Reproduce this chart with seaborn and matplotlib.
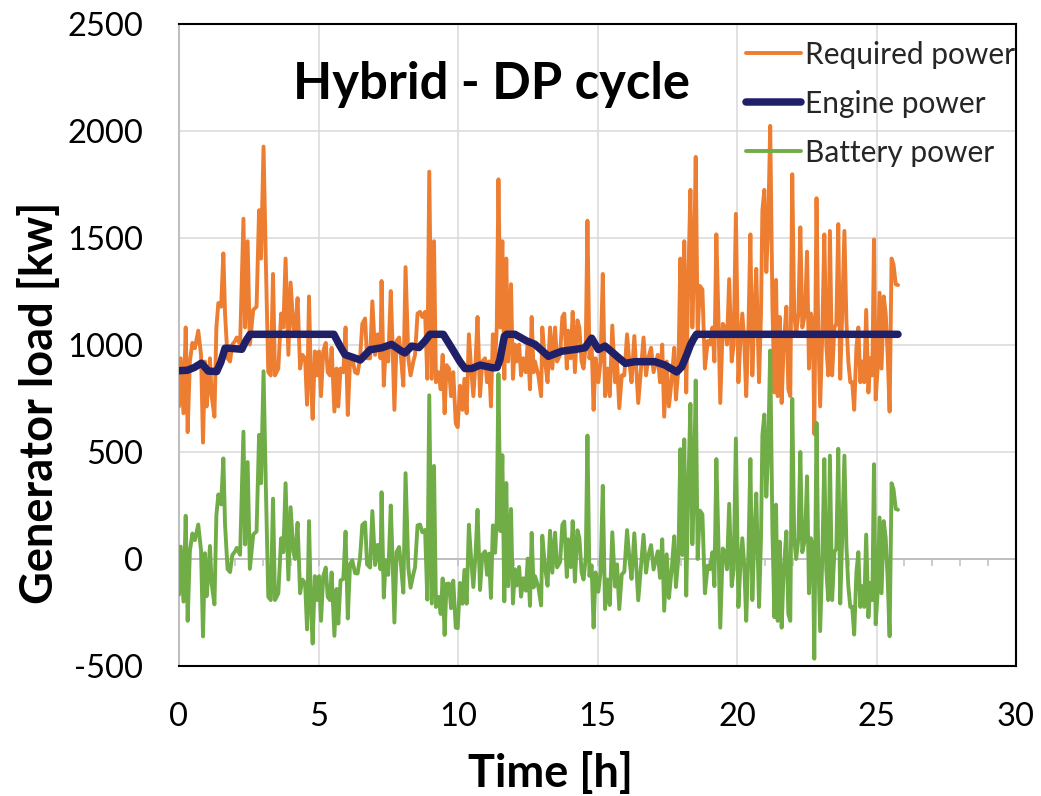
import numpy as np
import pandas as pd
import matplotlib
matplotlib.use("Agg")
import matplotlib.pyplot as plt
import seaborn as sns

# ---------------- data ----------------
time = [
    0.00, 0.06, 0.16, 0.24, 0.31, 0.39, 0.48, 0.57, 0.69, 0.79,
    0.86, 0.93, 0.99, 1.05, 1.11, 1.17, 1.27, 1.34, 1.41, 1.51,
    1.59, 1.65, 1.74, 1.83, 1.91, 2.01, 2.07, 2.19, 2.31, 2.37,
    2.46, 2.54, 2.66, 2.78, 2.87, 2.94, 3.03, 3.11, 3.20, 3.29,
    3.37, 3.44, 3.56, 3.66, 3.74, 3.82, 3.92, 4.00, 4.10,
    4.16, 4.25, 4.34, 4.42, 4.52, 4.59, 4.66, 4.73, 4.79, 4.87,
    4.95, 5.02, 5.09, 5.17, 5.26, 5.33, 5.41, 5.47, 5.57, 5.65,
    5.71, 5.79, 5.89, 5.97, 6.05, 6.13, 6.21, 6.31, 6.40, 6.49,
    6.57, 6.67, 6.74, 6.85, 6.93, 7.03, 7.12, 7.22, 7.26, 7.34,
    7.41, 7.50, 7.59, 7.65, 7.72, 7.80, 7.89, 7.96, 8.04, 8.12,
    8.22, 8.30, 8.40,
    8.46, 8.55, 8.64, 8.72, 8.82, 8.90, 8.97, 9.06, 9.14, 9.21,
    9.30, 9.38, 9.45, 9.52, 9.59, 9.68, 9.75, 9.83, 9.92, 9.99,
    10.07, 10.16, 10.23, 10.31, 10.39, 10.47, 10.55, 10.63, 10.70, 10.79,
    10.87, 10.97, 11.04, 11.11, 11.18, 11.25, 11.33, 11.39, 11.45, 11.52,
    11.59, 11.66, 11.73, 11.80, 11.90, 11.97, 12.04, 12.10, 12.19, 12.26,
    12.34, 12.43, 12.50, 12.58, 12.64, 12.71,
    12.76, 12.88, 12.98, 13.02, 13.12, 13.21, 13.30, 13.38, 13.48, 13.55,
    13.66, 13.74, 13.81, 13.90, 13.95, 14.04, 14.11, 14.19, 14.28, 14.35,
    14.43, 14.50, 14.58, 14.64, 14.71, 14.79, 14.86, 14.93, 15.03, 15.11,
    15.19, 15.27, 15.35, 15.44, 15.53, 15.63, 15.70, 15.78, 15.87, 15.96,
    16.06, 16.14, 16.22, 16.32, 16.40, 16.46, 16.56, 16.65, 16.74, 16.82,
    16.92, 17.01,
    17.16, 17.24, 17.32, 17.39, 17.48, 17.56, 17.66, 17.75, 17.81, 17.90,
    17.97, 18.04, 18.11, 18.18, 18.25, 18.33, 18.40, 18.46, 18.52, 18.59,
    18.67, 18.76, 18.85, 18.95, 19.03, 19.12, 19.19, 19.26, 19.33, 19.40,
    19.49, 19.57, 19.64, 19.72, 19.81, 19.88, 19.96, 20.05, 20.12, 20.19,
    20.26, 20.33, 20.41, 20.48, 20.55, 20.62, 20.69, 20.79, 20.86, 20.91,
    20.98, 21.05, 21.12, 21.19, 21.27, 21.34, 21.40,
    21.46, 21.53, 21.60, 21.67, 21.77, 21.84, 21.91, 21.98, 22.05, 22.12,
    22.20, 22.27, 22.34, 22.44, 22.51, 22.58, 22.65, 22.72, 22.77, 22.85,
    22.91, 22.98, 23.06, 23.13, 23.20, 23.27, 23.33, 23.41, 23.49, 23.56,
    23.63, 23.70, 23.77, 23.85, 23.92, 23.99, 24.06, 24.13, 24.20, 24.28,
    24.35, 24.42, 24.49, 24.56, 24.63, 24.71, 24.78, 24.85, 24.91, 24.97,
    25.04, 25.11, 25.18, 25.26, 25.33, 25.40, 25.47, 25.54, 25.61, 25.69,
    25.77,
]

required_power = [
    713, 938, 681, 1082, 593, 923, 1010, 985, 1067, 954,
    544, 923, 713, 810, 938, 761, 665, 1082, 1196, 1179,
    1428, 1147, 938, 923, 1002, 1019, 1035, 1002, 1590, 1082,
    1485, 1002, 1164, 1179, 1630, 1404, 1927, 1404, 873, 858,
    1332, 858, 890, 1147, 1082, 1404, 954, 1292, 1082,
    1050, 1219, 890, 954, 938, 721, 1227, 826, 655, 970,
    858, 970, 761, 970, 1010, 873, 858, 987, 689, 890,
    713, 890, 873, 1082, 673, 923, 938, 873, 866, 938,
    1099, 1124, 938, 938, 1204, 954, 1050, 938, 1299, 810,
    987, 923, 1252, 1019, 697, 1019, 1035, 938, 810, 1364,
    938, 858, 923,
    954, 1147, 1155, 1131, 1155, 842, 1810, 842, 1485, 826,
    873, 793, 954, 681, 906, 890, 761, 873, 633, 616,
    810, 697, 842, 681, 1050, 890, 761, 923, 1131, 761,
    923, 938, 826, 923, 713, 1050, 923, 1082, 1774, 1082,
    1485, 842, 1404, 923, 1284, 842, 1002, 923, 1002, 858,
    938, 873, 1019, 793, 1131, 873,
    923, 858, 761, 1082, 923, 826, 1082, 890, 1082, 923,
    954, 1131, 1147, 890, 1067, 938, 1155, 873, 1115, 1082,
    923, 890, 1002, 1581, 938, 1002, 697, 938, 826, 923,
    1332, 761, 890, 761, 1091, 826, 923, 705, 858, 858,
    1050, 923, 826, 1042, 858, 729, 890, 1035, 858, 938,
    987, 873,
    954, 826, 1002, 665, 923, 713, 842, 987, 745, 890,
    1404, 923, 1485, 778, 1276, 1725, 1082, 1373, 1879, 1050,
    1276, 1259, 890, 1019, 1002, 1082, 923, 1517, 1147, 729,
    1099, 1082, 1002, 1308, 923, 1002, 1613, 826, 1019, 1147,
    1019, 761, 1082, 1517, 858, 1147, 1356, 826, 1147, 1630,
    1725, 1341, 1565, 2024, 1179, 778, 1304,
    761, 1131, 729, 987, 1179, 793, 761, 1798, 1147, 1050,
    1147, 1550, 1082, 1147, 1436, 890, 1147, 1099, 584, 1686,
    1082, 713, 1067, 1517, 1002, 858, 1533, 858, 1082, 1099,
    1565, 842, 1147, 1533, 1115, 923, 826, 826, 697, 987,
    1082, 826, 923, 826, 1164, 778, 938, 858, 1493, 745,
    890, 1244, 890, 1227, 1147, 954, 689, 1404, 1376, 1284,
    1280,
]

battery_power = [
    -167, 58, -199, 202, -289, 37, 119, 88, 161, 40,
    -362, 27, -174, -68, 61, -116, -212, 205, 302, 255,
    470, 162, -47, -61, 18, 36, 52, 20, 595, 68,
    453, -46, 114, 129, 580, 354, 877, 354, -177, -192,
    282, -192, -160, 97, 32, 354, -96, 242, 32,
    0, 169, -160, -96, -112, -329, 177, -224, -395, -80,
    -192, -80, -289, -80, -40, -177, -192, -63, -359, -140,
    -302, -100, -93, 128, -278, -25, -6, -66, -68, 8,
    159, 171, -25, -40, 224, -28, 66, -48, 312, -180,
    -6, -74, 250, 18, -297, 33, 56, -34, -157, 401,
    -41, -134, -71,
    -39, 157, 161, 125, 136, -190, 765, -208, 435, -224,
    -177, -257, -91, -355, -116, -115, -230, -101, -321, -323,
    -112, -209, -51, -209, 160, 0, -131, 26, 230, -145,
    19, 36, -74, 25, -182, 157, 29, 187, 864, 130,
    485, -198, 355, -127, 234, -208, -48, -124, -37, -176,
    -90, -148, 2, -219, 122, -133,
    -80, -131, -217, 109, -38, -125, 132, -64, 123, -39,
    -14, 160, 175, -84, 92, -38, 177, -106, 134, 99,
    -62, -96, 9, 577, -79, -30, -320, -63, -153, -61,
    342, -234, -96, -215, 125, -129, -25, -234, -72, -60,
    135, 6, -93, 120, -64, -193, -32, 113, -64, 16,
    65, -49,
    36, -88, 92, -242, 22, -182, -46, 106, -131, 8,
    513, 19, 559, -171, 306, 725, 69, 343, 834, 0,
    226, 209, -160, -31, -48, 32, -127, 467, 97, -321,
    49, 32, -48, 258, -127, -48, 563, -224, -31, 97,
    -31, -289, 32, 467, -192, 97, 306, -224, 97, 580,
    675, 291, 515, 974, 129, -272, 254,
    -289, 81, -321, -63, 129, -257, -289, 748, 97, 0,
    97, 500, 32, 97, 386, -160, 97, 49, -466, 636,
    32, -337, 17, 467, -48, -192, 483, -192, 32, 49,
    515, -208, 97, 483, 65, -127, -224, -224, -353, -63,
    32, -224, -127, -224, 114, -272, -112, -192, 443, -305,
    -160, 194, -160, 177, 97, -96, -361, 354, 326, 234,
    230,
]

engine_time = [
    0.0, 0.3, 0.55, 0.8, 1.05, 1.35, 1.5, 1.65, 1.8, 2.25,
    2.4, 2.55, 5.55, 5.75, 5.95, 6.5, 6.85, 7.27, 7.62, 7.98,
    8.1, 8.34, 8.6, 8.82, 9.0, 9.47, 9.77, 10.07, 10.25, 10.49,
    10.79, 11.27, 11.4, 11.5, 11.66, 11.74, 12.04, 12.46, 12.76, 13.24,
    13.72, 14.19, 14.55, 14.79, 15.03, 15.27, 15.63, 16.0, 16.34, 17.06,
    17.42, 17.84, 18.02, 18.2, 18.33, 18.45, 18.55, 25.77,
]
engine_power = [
    880, 882, 895, 915, 878, 876, 920, 985, 985, 980,
    1020, 1050, 1050, 1000, 955, 930, 978, 987, 1003, 971,
    963, 995, 988, 1019, 1050, 1050, 987, 922, 890, 890,
    906, 893, 895, 930, 1040, 1050, 1050, 1019, 1003, 947,
    971, 979, 987, 1032, 979, 995, 955, 914, 922, 922,
    906, 874, 898, 955, 1000, 1030, 1050, 1050,
]

x_ticks = [0, 5, 10, 15, 20, 25, 30]
y_ticks = [-500, 0, 500, 1000, 1500, 2000, 2500]

# ---------------- style ----------------
sns.set_theme(style="white")
plt.rcParams["font.family"] = ["Lato", "DejaVu Sans"]
plt.rcParams["axes.unicode_minus"] = False

ORANGE = "#ED7D31"
NAVY = "#202068"
GREEN = "#70AD47"
GRID = "#D9D9D9"
AXISGREY = "#BFBFBF"

fig = plt.figure(figsize=(10.41, 7.96), dpi=100)
ax = fig.add_axes([179 / 1041, 130 / 796, 837 / 1041, 642 / 796])

df = pd.DataFrame({"t": time, "Required power": required_power,
                   "Battery power": battery_power})
eng = pd.DataFrame({"t": engine_time, "Engine power": engine_power})

sns.lineplot(data=df, x="t", y="Required power", ax=ax, color=ORANGE,
             lw=2.8, label="Required power", estimator=None, sort=False,
             zorder=3)
sns.lineplot(data=eng, x="t", y="Engine power", ax=ax, color=NAVY,
             lw=5.4, label="Engine power", estimator=None, sort=False,
             zorder=5, solid_capstyle="round", solid_joinstyle="round")
sns.lineplot(data=df, x="t", y="Battery power", ax=ax, color=GREEN,
             lw=2.8, label="Battery power", estimator=None, sort=False,
             zorder=4)

ax.set_xlim(0, 30)
ax.set_ylim(-500, 2500)
ax.set_xticks(x_ticks)
ax.set_yticks(y_ticks)
ax.grid(True, color=GRID, lw=1.1)
ax.set_axisbelow(True)

# horizontal axis line crossing at zero with hourly tick marks
ax.axhline(0, color=AXISGREY, lw=1.4, zorder=2)
ax.vlines(np.arange(0, 31), -32, 0, color=AXISGREY, lw=1.1, zorder=2)

for side in ["top", "right", "bottom"]:
    ax.spines[side].set_color("black")
    ax.spines[side].set_linewidth(1.5)
ax.spines["left"].set_color(AXISGREY)
ax.spines["left"].set_linewidth(1.5)

ax.tick_params(axis="both", length=0, labelsize=23.5, labelcolor="black")
ax.tick_params(axis="y", pad=26)
ax.tick_params(axis="x", pad=26)

ax.set_xlabel("Time [h]", fontsize=32.5, fontweight="bold", color="black")
ax.set_ylabel("Generator load [kw]", fontsize=32.5, fontweight="bold",
              color="black")
ax.xaxis.set_label_coords((551 - 179) / 837, (666 - 773) / 642)
ax.xaxis.label.set_va("center")
ax.yaxis.set_label_coords((40 - 179) / 837, (666 - 403) / 642)
ax.yaxis.label.set_va("center")

ax.text(11.2, 2215, "Hybrid - DP cycle", fontsize=36.5, fontweight="bold",
        ha="center", va="center", color="black")

leg = ax.legend(loc="upper right", bbox_to_anchor=(1.012, 0.99),
                frameon=False, fontsize=21.5, handlelength=1.85,
                handletextpad=0.15, labelspacing=0.70, borderaxespad=0.1,
                borderpad=0.25)

fig.savefig("out.png", dpi=100)
